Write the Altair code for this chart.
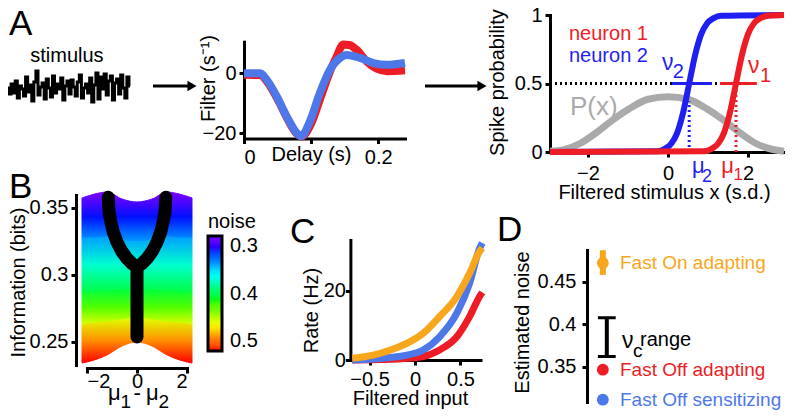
import altair as alt
import pandas as pd

FONT = "Liberation Sans"
W, H = 777, 403
RED = "#ee1c24"
BLUE_N = "#1f1ff2"
BLUE = "#4d78ea"
ORANGE = "#f8a61c"
GRAY = "#aaaaaa"
BLACK = "#000000"

# ---------------- data ----------------
# A: stimulus trace
stim_vals = [0.2, -0.4, 0.6, -0.3, 0.9, -0.8, 0.4, 0.1, -0.6, 1.3, -0.2, 0.5, -1.1, 0.8, 1.9,
             -0.5, 0.3, 0.7, -0.9, 1.1, 0.2, -0.7, 1.4, -0.3, 0.6, 0.1, 1.2, -1.0, 0.4, 0.9,
             -0.4, 1.0, 0.3, -0.6, 0.8, 1.5, -0.8, 0.2, 0.6, -0.3, 1.2, -1.2, 0.5, 1.7, -0.9,
             1.3, 0.1, 1.6, -0.5, 0.9, 1.4, -1.0, 0.7, 1.1, -0.4, 1.5, 0.2, -0.8, 1.3, 0.4]

# A: filters (delay in s, filter in 1/s)
delay_blue = [0, 0.024, 0.034, 0.049, 0.064, 0.079, 0.085, 0.099, 0.113, 0.128, 0.143, 0.153,
              0.173, 0.193, 0.213, 0.24]
filter_blue = [0, 0, -2.2, -7.8, -14.5, -20, -20.9, -15.6, -6.6, 1.1, 5.1, 6.1, 5.1, 3.4, 2.8, 3.4]
delay_red = [0, 0.024, 0.034, 0.049, 0.064, 0.079, 0.086, 0.1, 0.115, 0.128, 0.138, 0.148, 0.157,
             0.168, 0.183, 0.198, 0.213, 0.24]
filter_red = [-0.5, -0.6, -2.6, -8.2, -14.8, -20.2, -21.0, -16.8, -7.5, 0.5, 5.5, 9.6, 9.4,
              7.8, 3.9, 1.5, 0.7, 1.0]

# A: nonlinearities and stimulus distribution
sx_n2 = [-2.95, -0.27, -0.07, 0.08, 0.23, 0.38, 0.53, 0.68, 0.83, 0.98, 1.13, 1.33, 2.9]
sp_n2 = [0, 0.005, 0.025, 0.06, 0.14, 0.29, 0.5, 0.71, 0.86, 0.94, 0.975, 0.995, 1]
sx_n1 = [-2.95, 0.9, 1.1, 1.25, 1.4, 1.55, 1.7, 1.85, 2.0, 2.15, 2.3, 2.5, 2.9]
sp_n1 = [0, 0.005, 0.025, 0.06, 0.14, 0.29, 0.5, 0.71, 0.86, 0.94, 0.975, 0.995, 1]
px_x = [-2.95, -2.6, -2.2, -1.8, -1.4, -1.0, -0.5, 0, 0.5, 1.0, 1.4, 1.8, 2.2, 2.6, 2.9]
px_p = [0.005, 0.018, 0.062, 0.14, 0.23, 0.31, 0.385, 0.404, 0.385, 0.31, 0.23, 0.14, 0.062, 0.02, 0.006]
mu1, mu2 = 1.7, 0.53
nu1_range = [1.3, 2.22]
nu2_range = [0.1, 1.1]
p_mu2 = 0.37

# B: iso-noise curves of information (bits) vs mu1 - mu2
d_grid = [-2.2, -1.7, -1.2, -0.6, 0, 0.6, 1.2, 1.7, 2.2]
info_n030 = [0.3575, 0.3604, 0.3619, 0.3567, 0.3545, 0.3567, 0.3619, 0.3604, 0.3575]
info_n035 = [0.3276, 0.3276, 0.3284, 0.3261, 0.3246, 0.3261, 0.3284, 0.3276, 0.3276]
info_n040 = [0.2866, 0.2873, 0.2881, 0.2888, 0.2896, 0.2888, 0.2881, 0.2873, 0.2866]
info_n045 = [0.2627, 0.2642, 0.2649, 0.2664, 0.2679, 0.2664, 0.2649, 0.2642, 0.2627]
info_n050 = [0.2343, 0.2366, 0.2403, 0.2470, 0.2500, 0.2470, 0.2403, 0.2366, 0.2343]
noise_levels = [0.30, 0.35, 0.40, 0.45, 0.50]
# optimal mu1-mu2 (black Y)
opt_left_d = [0, 0, -0.2, -0.41, -0.62, -0.81, -0.95, -1.05, -1.12, -1.15]
opt_left_i = [0.2537, 0.306, 0.3085, 0.3125, 0.318, 0.3249, 0.332, 0.340, 0.347, 0.358]
opt_right_d = [0, 0.2, 0.41, 0.62, 0.81, 0.95, 1.05, 1.12, 1.15]
opt_right_i = [0.306, 0.3085, 0.3125, 0.318, 0.3249, 0.332, 0.340, 0.347, 0.358]

# C: rate vs filtered input
c_x = [-0.69, -0.46, -0.27, -0.09, 0.09, 0.27, 0.46, 0.6, 0.71, 0.74]
c_on_adapt = [0.5, 1.4, 2.9, 4.8, 7.7, 12.5, 18.3, 25.0, 31.3, 32.3]
c_off_sens = [0.0, 0.3, 0.7, 1.4, 2.9, 6.7, 13.5, 22.1, 32.2, 33.8]
c_off_adapt = [0.0, 0.1, 0.2, 0.5, 1.0, 2.9, 6.7, 12.5, 18.3, 19.5]

# D: estimated noise
d_cells = ["Fast On adapting", "Fast Off adapting", "Fast Off sensitizing"]
d_noise = [0.472, 0.3465, 0.3112]
d_on_err = [0.458, 0.487]
nuc_range = [0.362, 0.4076]

# ---------------- helpers ----------------
def S(domain, rng):
    return alt.Scale(domain=domain, range=rng, nice=False, zero=False)

def xaxis(offset, values, title, **kw):
    d = dict(orient="bottom", offset=offset, values=values, title=title, format="~r",
             tickSize=5, labelPadding=4)
    d.update(kw)
    return alt.Axis(**d)

def yaxis(offset, values, title, **kw):
    d = dict(orient="left", offset=offset, values=values, title=title, format="~r",
             tickSize=5, labelPadding=3, titleBaseline="bottom")
    d.update(kw)
    return alt.Axis(**d)

def line(df, xf, yf, xs, ys, color, width, xa=None, ya=None, **mk):
    return alt.Chart(df).mark_line(color=color, strokeWidth=width, **mk).encode(
        x=alt.X(f"{xf}:Q", scale=xs, axis=xa), y=alt.Y(f"{yf}:Q", scale=ys, axis=ya))

def texts(rows, xs, ys, align="left", baseline="alphabetic"):
    df = pd.DataFrame(rows, columns=["t", "x", "y", "c", "s"])
    return alt.Chart(df).mark_text(align=align, baseline=baseline, font=FONT).encode(
        x=alt.X("x:Q", scale=xs, axis=None), y=alt.Y("y:Q", scale=ys, axis=None),
        text="t:N", color=alt.Color("c:N", scale=None), size=alt.Size("s:Q", scale=None))

layers = []

# ---------------- A: stimulus ----------------
xs_a1 = S([0, len(stim_vals) - 1], [0, 122])
ys_a1 = S([-2, 2], [102, 62])
df_stim = pd.DataFrame({"i": list(range(len(stim_vals))), "v": stim_vals})
layers.append(line(df_stim, "i", "v", xs_a1, ys_a1, BLACK, 3, interpolate="step"))
layers.append(texts([("stimulus", 28.5, 2.8, BLACK, 20)], xs_a1, ys_a1, align="center"))

# ---------------- A: filter ----------------
xs_a2 = S([0, 0.24], [236, 397])
ys_a2 = S([-21.7, 10.5], [130.5, 33.7])
df_fr = pd.DataFrame({"d": delay_red, "v": filter_red})
df_fb = pd.DataFrame({"d": delay_blue, "v": filter_blue})
layers.append(line(df_fr, "d", "v", xs_a2, ys_a2, RED, 8,
                   xa=xaxis(130.5 - H, [0, 0.1, 0.2], "Delay (s)",
                            labelExpr="datum.label == '0.1' ? '' : datum.label",
                            titleX=303, titleY=22, titleBaseline="alphabetic"),
                   ya=yaxis(-236, [-20, 0], "Filter (s\u207b\u00b9)", titleX=-26, titleY=70),
                   interpolate="monotone"))
layers.append(line(df_fb, "d", "v", xs_a2, ys_a2, BLUE, 8, interpolate="monotone"))

# ---------------- A: spike probability ----------------
xs_a3 = S([-2.95, 2.9], [542, 776])
ys_a3 = S([0, 1], [144, 7])
df_px = pd.DataFrame({"x": px_x, "p": px_p})
layers.append(line(df_px, "x", "p", xs_a3, ys_a3, GRAY, 7,
                   xa=xaxis(144 - H, [-2, 0, 2], "Filtered stimulus x (s.d.)",
                            titleX=656, titleY=46, titleBaseline="alphabetic", labelPadding=6),
                   ya=yaxis(-542, [0, 0.5, 1], "Spike probability", titleX=-43, titleY=74),
                   interpolate="monotone"))
df_half = pd.DataFrame({"x": [-2.95, nu1_range[0]], "p": [0.5, 0.5]})
layers.append(line(df_half, "x", "p", xs_a3, ys_a3, BLACK, 3, strokeDash=[2, 3]))
df_v2 = pd.DataFrame({"x": [mu2, mu2], "p": [0, p_mu2]})
layers.append(line(df_v2, "x", "p", xs_a3, ys_a3, BLUE_N, 3, strokeDash=[2, 3]))
df_v1 = pd.DataFrame({"x": [mu1, mu1], "p": [0, 0.45]})
layers.append(line(df_v1, "x", "p", xs_a3, ys_a3, RED, 3, strokeDash=[2, 3]))
df_h2 = pd.DataFrame({"x": nu2_range, "p": [0.5, 0.5]})
layers.append(line(df_h2, "x", "p", xs_a3, ys_a3, BLUE_N, 3))
df_h1 = pd.DataFrame({"x": nu1_range, "p": [0.5, 0.5]})
layers.append(line(df_h1, "x", "p", xs_a3, ys_a3, RED, 3))
df_s2 = pd.DataFrame({"x": sx_n2, "p": sp_n2})
layers.append(line(df_s2, "x", "p", xs_a3, ys_a3, BLUE_N, 6, interpolate="monotone"))
df_s1 = pd.DataFrame({"x": sx_n1, "p": sp_n1})
layers.append(line(df_s1, "x", "p", xs_a3, ys_a3, RED, 6, interpolate="monotone"))
layers.append(texts([
    ("neuron 1", -2.475, 0.818, RED, 20),
    ("neuron 2", -2.475, 0.657, BLUE_N, 20),
    ("\u03bd", -0.15, 0.599, BLUE_N, 23),
    ("2", 0.12, 0.54, BLUE_N, 20),
    ("\u03bd", 2.0, 0.577, RED, 23),
    ("1", 2.3, 0.511, RED, 20),
    ("P(x)", -2.45, 0.27, GRAY, 26),
    ("\u03bc", 0.6, -0.153, BLUE_N, 22),
    ("2", 0.85, -0.219, BLUE_N, 18),
    ("\u03bc", 1.33, -0.153, RED, 22),
    ("1", 1.64, -0.204, RED, 17),
], xs_a3, ys_a3))

# ---------------- B: information landscape ----------------
xs_b = S([-2, 2], [79, 179])
ys_b = S([0.2328, 0.3597], [357, 187])
iso = [info_n030, info_n035, info_n040, info_n045, info_n050]
band_colors = [("#8000ff", "#0010ff", "#009fff"),
               ("#009fff", "#00ffcf", "#00ff40"),
               ("#00ff40", "#50ff00", "#dfff00"),
               ("#dfff00", "#ff8f00", "#ff0000")]
for k in range(4):
    c0, c1, c2 = band_colors[k]
    grad = {"gradient": "linear", "x1": 0, "x2": 0, "y1": 0, "y2": 1,
            "stops": [{"offset": 0, "color": c0}, {"offset": 0.5, "color": c1},
                      {"offset": 1, "color": c2}]}
    df_band = pd.DataFrame({"d": d_grid, "top": iso[k], "bot": iso[k + 1]})
    enc = dict(x=alt.X("d:Q", scale=xs_b, axis=None), y=alt.Y("top:Q", scale=ys_b, axis=None),
               y2="bot:Q")
    if k == 0:
        enc["x"] = alt.X("d:Q", scale=xs_b,
                         axis=xaxis(360 - H, [-2, 0, 2], None, labelPadding=-2))
        enc["y"] = alt.Y("top:Q", scale=ys_b,
                         axis=yaxis(-68, [0.25, 0.3, 0.35], "Information (bits)",
                                    titleX=-48, titleY=274))
    layers.append(alt.Chart(df_band).mark_area(color=grad, stroke=grad, strokeWidth=1,
                                               interpolate="monotone").encode(**enc))
df_opt = pd.DataFrame({
    "d": opt_left_d + opt_right_d,
    "info": opt_left_i + opt_right_i,
    "branch": ["L"] * len(opt_left_d) + ["R"] * len(opt_right_d),
    "i": list(range(len(opt_left_d))) + list(range(len(opt_right_d))),
})
layers.append(alt.Chart(df_opt).mark_line(color=BLACK, strokeWidth=13, strokeCap="round",
                                          strokeJoin="round").encode(
    x=alt.X("d:Q", scale=xs_b, axis=None), y=alt.Y("info:Q", scale=ys_b, axis=None),
    detail="branch:N", order="i:Q"))
# x-axis title of B: mu1 - mu2 with large subscripts
layers.append(texts([
    ("\u03bc", -1.16, 0.2070, BLACK, 22),
    ("1", -0.66, 0.2005, BLACK, 19),
    ("-", -0.14, 0.2068, BLACK, 22),
    ("\u03bc", 0.36, 0.2070, BLACK, 22),
    ("2", 0.86, 0.2005, BLACK, 19),
], xs_b, ys_b))
rainbow = ["#8000ff", "#0000ff", "#0080ff", "#00ffff", "#00ff80", "#00ff00",
           "#80ff00", "#ffff00", "#ff8000", "#ff0000"]
df_noise = pd.DataFrame({"noise": noise_levels, "d": [0] * 5, "info": [0.3] * 5})
layers.append(alt.Chart(df_noise).mark_square(size=0, opacity=1).encode(
    x=alt.X("d:Q", scale=xs_b, axis=None), y=alt.Y("info:Q", scale=ys_b, axis=None),
    color=alt.Color("noise:Q",
                    scale=alt.Scale(domain=[0.5, 0.3], range=rainbow[::-1]),
                    legend=alt.Legend(orient="none", legendX=200, legendY=204, title="noise",
                                      direction="vertical", gradientLength=115,
                                      gradientThickness=14, gradientStrokeColor=BLACK,
                                      gradientStrokeWidth=3, values=[0.3, 0.4, 0.5],
                                      format="~r", labelFontSize=20, titleFontSize=20,
                                      labelFont=FONT, titleFont=FONT, labelOffset=8,
                                      titleFontWeight="normal", titlePadding=4,
                                      labelColor=BLACK, titleColor=BLACK))))

# ---------------- C: rates ----------------
xs_c = S([-0.71, 0.72], [342.4, 472.5])
ys_c = S([0, 34.6], [352, 232])
df_cr = pd.DataFrame({"x": c_x, "r": c_off_adapt})
df_cb = pd.DataFrame({"x": c_x, "r": c_off_sens})
df_co = pd.DataFrame({"x": c_x, "r": c_on_adapt})
layers.append(line(df_cr, "x", "r", xs_c, ys_c, RED, 7,
                   xa=xaxis(352 - H, [-0.5, 0, 0.5], "Filtered input",
                            titleX=402, titleY=44, titleBaseline="alphabetic"),
                   ya=yaxis(-342.4, [0, 20], "Rate (Hz)", titleX=-29, titleY=302,
                            labelPadding=0),
                   interpolate="monotone"))
layers.append(line(df_cb, "x", "r", xs_c, ys_c, BLUE, 7, interpolate="monotone"))
layers.append(line(df_co, "x", "r", xs_c, ys_c, ORANGE, 7, interpolate="monotone"))

# ---------------- D: estimated noise ----------------
xs_d = S([0, 10], [579, 777])
ys_d = S([0.3085, 0.4873], [394, 242])
df_err = pd.DataFrame({"x": [0.8], "lo": [d_on_err[0]], "hi": [d_on_err[1]]})
layers.append(alt.Chart(df_err).mark_rule(color=ORANGE, strokeWidth=6).encode(
    x=alt.X("x:Q", scale=xs_d, axis=None),
    y=alt.Y("lo:Q", scale=ys_d,
            axis=yaxis(-579, [0.35, 0.4, 0.45], "Estimated noise", titleX=-55, titleY=314,
                       labelPadding=6)),
    y2="hi:Q"))
df_pts = pd.DataFrame({"cell": d_cells, "noise": d_noise, "x": [0.8] * 3,
                       "col": [ORANGE, RED, BLUE]})
layers.append(alt.Chart(df_pts).mark_circle(size=140, opacity=1).encode(
    x=alt.X("x:Q", scale=xs_d, axis=None), y=alt.Y("noise:Q", scale=ys_d, axis=None),
    color=alt.Color("col:N", scale=None)))
layers.append(alt.Chart(df_pts).mark_text(align="left", baseline="middle", font=FONT,
                                          fontSize=19).encode(
    x=alt.value(612), y=alt.Y("noise:Q", scale=ys_d, axis=None), text="cell:N",
    color=alt.Color("col:N", scale=None)))
df_nuc = pd.DataFrame({"x": [1.0], "lo": [nuc_range[0]], "hi": [nuc_range[1]]})
layers.append(alt.Chart(df_nuc).mark_rule(color=BLACK, strokeWidth=4).encode(
    x=alt.X("x:Q", scale=xs_d, axis=None), y=alt.Y("lo:Q", scale=ys_d, axis=None), y2="hi:Q"))
df_caps = pd.DataFrame({"x0": [0.55, 0.55], "x1": [1.45, 1.45], "y": nuc_range})
layers.append(alt.Chart(df_caps).mark_rule(color=BLACK, strokeWidth=3).encode(
    x=alt.X("x0:Q", scale=xs_d, axis=None), x2="x1:Q", y=alt.Y("y:Q", scale=ys_d, axis=None)))
layers.append(texts([
    ("\u03bd", 1.77, 0.3724, BLACK, 23),
    ("c", 2.32, 0.3618, BLACK, 19),
    ("range", 2.68, 0.3739, BLACK, 20),
], xs_d, ys_d))

# ---------------- decorations: arrows and panel letters ----------------
df_arrow = pd.DataFrame({"x": [145, 417], "x2": [184, 474], "y": [78, 78]})
layers.append(alt.Chart(df_arrow).mark_rule(color=BLACK, strokeWidth=3).encode(
    x=alt.X("x:Q", scale=None), x2="x2:Q", y=alt.Y("y:Q", scale=None)))
layers.append(alt.Chart(df_arrow).mark_point(shape="triangle-right", filled=True, size=110,
                                             color=BLACK, opacity=1).encode(
    x=alt.X("x2:Q", scale=None), y=alt.Y("y:Q", scale=None)))
df_letters = pd.DataFrame({"t": ["A", "B", "C", "D"], "x": [1, 1, 282, 489],
                           "y": [27, 190, 235, 233]})
layers.append(alt.Chart(df_letters).mark_text(align="left", baseline="alphabetic", font=FONT,
                                              fontSize=35, color=BLACK).encode(
    x=alt.X("x:Q", scale=None), y=alt.Y("y:Q", scale=None), text="t:N"))

chart = alt.layer(*layers).resolve_scale(
    x="independent", y="independent", color="independent", size="independent"
).properties(
    width=W, height=H, padding=0, autosize=alt.AutoSizeParams(type="none"), background="white"
).configure_view(stroke=None).configure_axis(
    grid=False, domainColor=BLACK, domainWidth=3, tickColor=BLACK, tickWidth=3,
    labelFont=FONT, labelFontSize=20, labelColor=BLACK, titleFont=FONT, titleFontSize=20,
    titleFontWeight="normal", titleColor=BLACK, domainCap="square"
)

chart.save("out.html", embed_options={"renderer": "svg", "actions": False})
